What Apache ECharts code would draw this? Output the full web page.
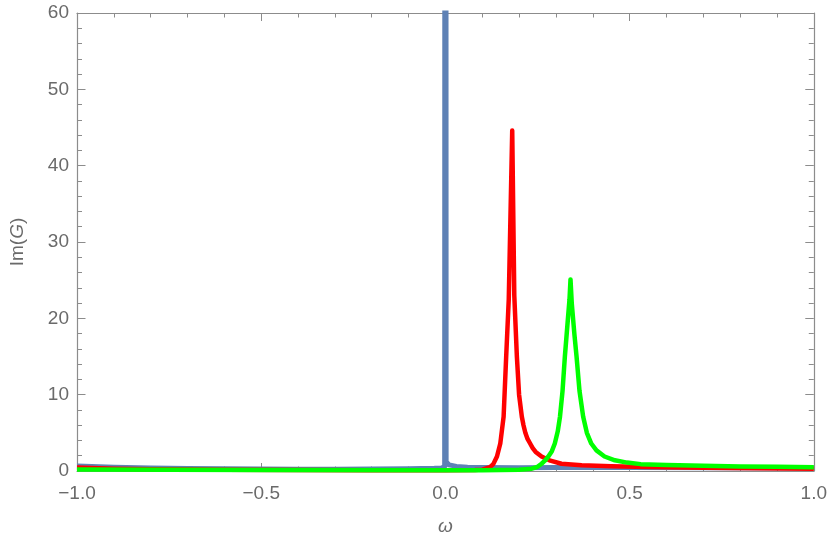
<!DOCTYPE html>
<html>
<head>
<meta charset="utf-8">
<script src="https://cdn.jsdelivr.net/npm/echarts@6/dist/echarts.min.js"></script>
<style>
  html, body { margin: 0; padding: 0; background: #fff; }
  #chart { width: 830px; height: 545px; }
</style>
</head>
<body>
<div id="chart"></div>
<script>
// values
var blueOmega = [-1, -0.9, -0.8, -0.7, -0.6, -0.5, -0.4, -0.3, -0.2, -0.1, -0.03, -0.01, -0.002, 0, 0.002, 0.01, 0.03, 0.06, 0.1, 0.2, 0.3, 0.5, 0.7, 1.0];
var blueIm = [0.65, 0.5, 0.4, 0.33, 0.28, 0.25, 0.24, 0.24, 0.26, 0.3, 0.35, 0.4, 0.6, 400, 1.2, 0.8, 0.6, 0.5, 0.45, 0.42, 0.45, 0.45, 0.42, 0.4];

var redOmega = [-1, -0.9, -0.8, -0.6, -0.4, -0.2, 0, 0.08, 0.1, 0.121, 0.13, 0.14, 0.149, 0.158, 0.165, 0.172, 0.1814, 0.187, 0.194, 0.2, 0.2075, 0.212, 0.217, 0.223, 0.23, 0.237, 0.245, 0.261, 0.285, 0.315, 0.37, 0.45, 0.55, 0.7, 0.85, 1.0];
var redIm = [0.45, 0.3, 0.22, 0.15, 0.12, 0.1, 0.1, 0.12, 0.18, 0.5, 0.9, 1.9, 3.6, 7.1, 15, 22.5, 44.6, 23, 15, 10, 7.1, 6.0, 5.0, 4.2, 3.6, 3.0, 2.5, 1.9, 1.35, 0.95, 0.75, 0.62, 0.52, 0.42, 0.36, 0.3];

var greenOmega = [-1, -0.5, 0, 0.1, 0.2, 0.2345, 0.25, 0.261, 0.27, 0.2795, 0.289, 0.297, 0.305, 0.311, 0.318, 0.3243, 0.331, 0.3369, 0.3396, 0.343, 0.35, 0.356, 0.364, 0.374, 0.384, 0.396, 0.41, 0.432, 0.46, 0.493, 0.53, 0.6, 0.7, 0.8, 0.9, 1.0];
var greenIm = [0.2, 0.12, 0.1, 0.1, 0.15, 0.3, 0.55, 0.95, 1.35, 1.9, 2.6, 3.6, 5.2, 7.1, 10.5, 15, 19, 22.5, 25.1, 22, 18, 15, 10.5, 7.1, 5.0, 3.6, 2.7, 1.9, 1.4, 1.1, 0.9, 0.78, 0.68, 0.6, 0.55, 0.5];

var xTicks = [-1, -0.5, 0, 0.5, 1];
var yTicks = [0, 10, 20, 30, 40, 50, 60];

function pairs(xs, ys) {
    var out = [];
    for (var i = 0; i < xs.length; i++) out.push([xs[i], ys[i]]);
    return out;
}

var font = "'Liberation Sans', Arial, sans-serif";
var axisGray = '#8c8c8c';
var textGray = '#6a6a6a';

function xAx(pos, labels) {
    return {
        type: 'value', position: pos,
        min: xTicks[0], max: xTicks[xTicks.length - 1], interval: 0.5,
        axisLine: { show: true, onZero: false, lineStyle: { color: axisGray, width: 1.2 } },
        axisTick: { show: true, inside: true, length: 8, lineStyle: { color: axisGray } },
        minorTick: { show: true, splitNumber: 5, length: 4.5, lineStyle: { color: axisGray } },
        splitLine: { show: false },
        axisLabel: {
            show: labels, margin: 13, color: textGray, fontSize: 19, fontFamily: font,
            formatter: function (v) { return (v < 0 ? '\u2212' : '') + Math.abs(v).toFixed(1); }
        }
    };
}

function yAx(pos, labels) {
    return {
        type: 'value', position: pos,
        min: yTicks[0], max: yTicks[yTicks.length - 1], interval: 10,
        axisLine: { show: true, onZero: false, lineStyle: { color: axisGray, width: 1.2 } },
        axisTick: { show: true, inside: true, length: 8.5, lineStyle: { color: axisGray } },
        minorTick: { show: true, splitNumber: 5, length: 5, lineStyle: { color: axisGray } },
        splitLine: { show: false },
        axisLabel: { show: labels, margin: 8, color: textGray, fontSize: 19, fontFamily: font }
    };
}

var bottomX = xAx('bottom', true);
bottomX.name = '{i|\u03c9}';
bottomX.nameLocation = 'middle';
bottomX.nameGap = 46;
bottomX.nameTextStyle = { rich: { i: { fontStyle: 'italic', fontSize: 19, color: textGray, fontFamily: font } } };

var leftY = yAx('left', true);
leftY.name = '{n|Im(}{i|G}{n|)}';
leftY.nameLocation = 'middle';
leftY.nameGap = 50;
leftY.nameRotate = 90;
leftY.nameTextStyle = { rich: {
    n: { fontSize: 19, color: textGray, fontFamily: font },
    i: { fontSize: 19, color: textGray, fontFamily: font, fontStyle: 'italic' }
} };

var topX = xAx('top', false);
var rightY = yAx('right', false);

function line(name, data, color, w) {
    return {
        name: name, type: 'line', data: data, xAxisIndex: 0, yAxisIndex: 0,
        showSymbol: false, symbol: 'none', smooth: false, clip: true,
        lineStyle: { color: color, width: w, join: 'round' },
        animation: false
    };
}

var myChart = echarts.init(document.getElementById('chart'), null, { renderer: 'canvas' });

option = {
    backgroundColor: '#ffffff',
    animation: false,
    grid: { left: 72, top: 13, right: 16, bottom: 74 },
    xAxis: [bottomX, topX],
    yAxis: [leftY, rightY],
    series: [
        line('blue', pairs(blueOmega, blueIm), '#5e81b5', 5),
        line('red', pairs(redOmega, redIm), '#ff0000', 4.5),
        line('green', pairs(greenOmega, greenIm), '#00ff00', 4.5)
    ]
};

if (option && typeof option === "object") {
    myChart.setOption(option, true);
}
</script>
</body>
</html>
